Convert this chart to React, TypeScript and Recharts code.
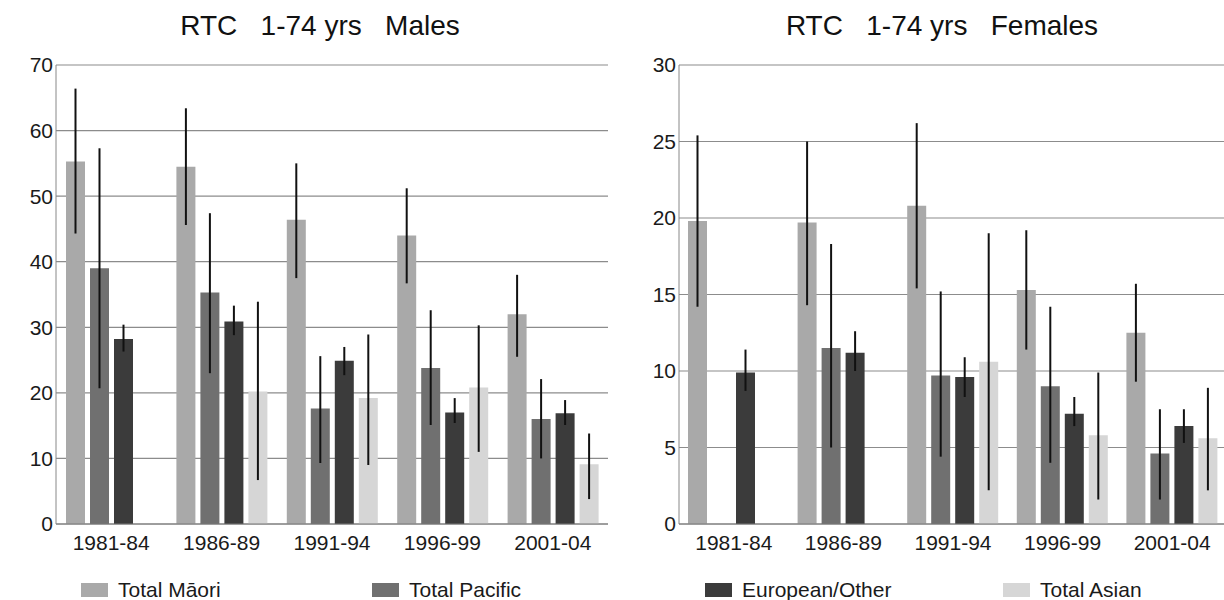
import { Bar, BarChart, CartesianGrid, ErrorBar, XAxis, YAxis } from "recharts";

const periods = ["1981-84", "1986-89", "1991-94", "1996-99", "2001-04"];

const seriesNames = ["Total Māori", "Total Pacific", "European/Other", "Total Asian"];
const seriesColors = ["#a9a9a9", "#707070", "#3b3b3b", "#d6d6d6"];

// Males: rate with lower / upper confidence limits
const maoriMale = [55.3, 54.5, 46.4, 44.0, 32.0];
const maoriMaleLow = [44.3, 45.6, 37.5, 36.7, 25.5];
const maoriMaleHigh = [66.4, 63.4, 55.0, 51.2, 38.0];
const pacificMale = [39.0, 35.3, 17.6, 23.8, 16.0];
const pacificMaleLow = [20.7, 23.0, 9.3, 15.1, 10.0];
const pacificMaleHigh = [57.3, 47.4, 25.6, 32.6, 22.1];
const europeanMale = [28.2, 30.9, 24.9, 17.0, 16.9];
const europeanMaleLow = [26.3, 28.8, 22.7, 15.4, 15.1];
const europeanMaleHigh = [30.4, 33.3, 27.0, 19.2, 18.9];
const asianMale = [null, 20.2, 19.2, 20.8, 9.1];
const asianMaleLow = [null, 6.7, 9.0, 11.0, 3.8];
const asianMaleHigh = [null, 33.9, 28.9, 30.3, 13.8];

// Females
const maoriFemale = [19.8, 19.7, 20.8, 15.3, 12.5];
const maoriFemaleLow = [14.2, 14.3, 15.4, 11.4, 9.3];
const maoriFemaleHigh = [25.4, 25.0, 26.2, 19.2, 15.7];
const pacificFemale = [null, 11.5, 9.7, 9.0, 4.6];
const pacificFemaleLow = [null, 5.0, 4.4, 4.0, 1.6];
const pacificFemaleHigh = [null, 18.3, 15.2, 14.2, 7.5];
const europeanFemale = [9.9, 11.2, 9.6, 7.2, 6.4];
const europeanFemaleLow = [8.7, 10.0, 8.3, 6.4, 5.3];
const europeanFemaleHigh = [11.4, 12.6, 10.9, 8.3, 7.5];
const asianFemale = [null, null, 10.6, 5.8, 5.6];
const asianFemaleLow = [null, null, 2.2, 1.6, 2.2];
const asianFemaleHigh = [null, null, 19.0, 9.9, 8.9];

const maleTicks = [0, 10, 20, 30, 40, 50, 60, 70];
const femaleTicks = [0, 5, 10, 15, 20, 25, 30];

type Num = number | null;

const buildRows = (values: Num[][], lows: Num[][], highs: Num[][]) =>
  periods.map((period, i) => {
    const row: Record<string, unknown> = { period };
    values.forEach((series, s) => {
      const v = series[i];
      const lo = lows[s][i];
      const hi = highs[s][i];
      row[`s${s}`] = v;
      row[`e${s}`] = v == null || lo == null || hi == null ? null : [v - lo, hi - v];
    });
    return row;
  });

const maleRows = buildRows(
  [maoriMale, pacificMale, europeanMale, asianMale],
  [maoriMaleLow, pacificMaleLow, europeanMaleLow, asianMaleLow],
  [maoriMaleHigh, pacificMaleHigh, europeanMaleHigh, asianMaleHigh]
);
const femaleRows = buildRows(
  [maoriFemale, pacificFemale, europeanFemale, asianFemale],
  [maoriFemaleLow, pacificFemaleLow, europeanFemaleLow, asianFemaleLow],
  [maoriFemaleHigh, pacificFemaleHigh, europeanFemaleHigh, asianFemaleHigh]
);

const FONT = "'Liberation Sans', Arial, sans-serif";
const tickStyle = { fontSize: 21, fill: "#1a1a1a", fontFamily: FONT };

type ChartProps = {
  title: string;
  rows: Record<string, unknown>[];
  max: number;
  ticks: number[];
  left: number;
  titleCenter: number;
  marginLeft: number;
  marginRight: number;
  legendItems: { index: number; x: number }[];
};

const RateChart = ({ title, rows, max, ticks, left, titleCenter, marginLeft, marginRight, legendItems }: ChartProps) => (
  <div style={{ position: "absolute", left, top: 0, width: 620, height: 600 }}>
    <div
      style={{
        position: "absolute",
        left: titleCenter - 250,
        width: 500,
        top: 10,
        textAlign: "center",
        fontSize: 28,
        whiteSpace: "pre",
        color: "#111",
      }}
    >
      {title}
    </div>
    <BarChart
      width={620}
      height={600}
      data={rows}
      margin={{ top: 65, right: marginRight, bottom: 46, left: marginLeft }}
      barSize={19}
      barGap={5}
    >
      <CartesianGrid vertical={false} stroke="#8c8c8c" strokeWidth={1.2} />
      <XAxis
        dataKey="period"
        tick={tickStyle}
        tickLine={false}
        tickSize={6}
        tickMargin={5}
        height={30}
        stroke="#777"
        interval={0}
      />
      <YAxis
        domain={[0, max]}
        ticks={ticks}
        tick={tickStyle}
        tickLine={false}
        tickSize={1}
        tickMargin={2}
        width={46}
        stroke="#888"
        interval={0}
      />
      {seriesNames.map((name, s) => (
        <Bar key={name} dataKey={`s${s}`} name={name} fill={seriesColors[s]} isAnimationActive={false}>
          <ErrorBar dataKey={`e${s}`} width={0} stroke="#111" strokeWidth={2} direction="y" />
        </Bar>
      ))}
    </BarChart>
    {legendItems.map(({ index, x }) => (
      <div
        key={index}
        style={{ position: "absolute", left: x, top: 579, height: 22, display: "flex", alignItems: "center" }}
      >
        <span style={{ width: 27, height: 14, background: seriesColors[index], display: "inline-block" }} />
        <span style={{ marginLeft: 10, fontSize: 21, color: "#1a1a1a", whiteSpace: "nowrap" }}>
          {seriesNames[index]}
        </span>
      </div>
    ))}
  </div>
);

const App = () => (
  <div
    style={{
      position: "absolute",
      left: 0,
      top: 0,
      width: 1224,
      height: 600,
      overflow: "hidden",
      background: "#fff",
      fontFamily: FONT,
    }}
  >
    <RateChart
      title="RTC   1-74 yrs   Males"
      rows={maleRows}
      max={70}
      ticks={maleTicks}
      left={0}
      titleCenter={320}
      marginLeft={10}
      marginRight={12}
      legendItems={[
        { index: 0, x: 81 },
        { index: 1, x: 372 },
      ]}
    />
    <RateChart
      title="RTC   1-74 yrs   Females"
      rows={femaleRows}
      max={30}
      ticks={femaleTicks}
      left={622}
      titleCenter={320}
      marginLeft={11}
      marginRight={15}
      legendItems={[
        { index: 2, x: 83 },
        { index: 3, x: 381 },
      ]}
    />
  </div>
);

export default App;
